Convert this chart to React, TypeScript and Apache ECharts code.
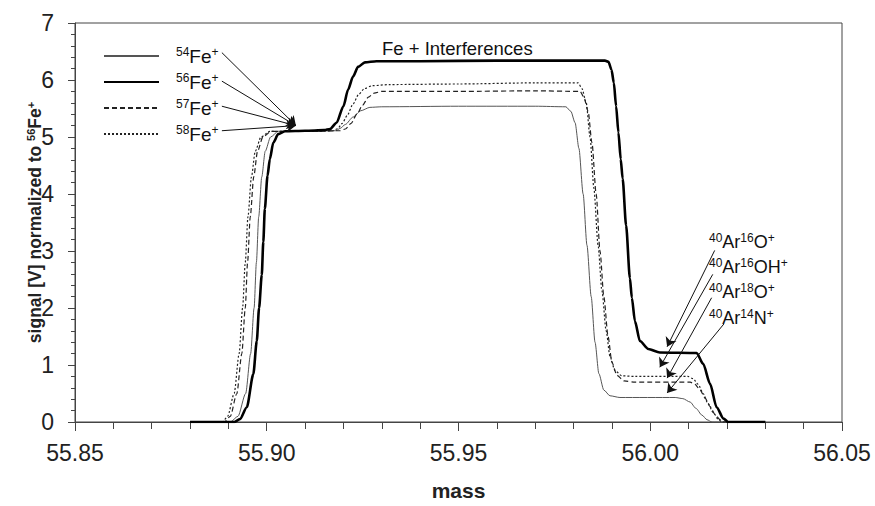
import React, { useEffect, useRef } from "react";
import * as echarts from "echarts";

// ---- data (mass, signal normalized to 56Fe+) ----
const seriesNames = ["54Fe+", "56Fe+", "57Fe+", "58Fe+"];
const isotopes = ["54", "56", "57", "58"];

const fe54: number[][] = [
  [55.88, 0], [55.8905, 0], [55.8925, 0.1], [55.8945, 0.5], [55.8958, 1.2], [55.8967, 2.0],
  [55.8973, 2.8], [55.8979, 3.6], [55.8987, 4.3], [55.8996, 4.75], [55.901, 5.0], [55.903, 5.1],
  [55.91, 5.1], [55.918, 5.11], [55.9191, 5.15], [55.9205, 5.22], [55.9225, 5.35], [55.9245, 5.46],
  [55.9269, 5.52], [55.93, 5.53], [55.95, 5.54], [55.97, 5.54], [55.978, 5.53], [55.9793, 5.45],
  [55.9804, 5.25], [55.9814, 4.8], [55.9825, 4.0], [55.9835, 3.1], [55.9846, 2.2], [55.9856, 1.4],
  [55.9866, 0.85], [55.9879, 0.56], [55.9895, 0.46], [55.9921, 0.43], [56.0065, 0.43], [56.0085, 0.41],
  [56.0104, 0.35], [56.0119, 0.24], [56.0135, 0.12], [56.0148, 0.04], [56.0161, 0], [56.03, 0],
];

const fe56: number[][] = [
  [55.88, 0], [55.8915, 0], [55.893, 0.05], [55.8948, 0.26], [55.8965, 0.84], [55.8974, 1.42],
  [55.898, 2.0], [55.8987, 2.58], [55.8991, 3.16], [55.8995, 3.74], [55.9002, 4.32], [55.9008, 4.61],
  [55.9017, 4.9], [55.903, 5.05], [55.9048, 5.1], [55.91, 5.11], [55.915, 5.12], [55.9165, 5.14],
  [55.9182, 5.25], [55.92, 5.54], [55.9212, 5.83], [55.9225, 6.06], [55.9238, 6.23], [55.9256, 6.31],
  [55.9286, 6.33], [55.94, 6.33], [55.96, 6.34], [55.98, 6.34], [55.9882, 6.34], [55.9891, 6.32],
  [55.9899, 6.18], [55.9905, 5.95], [55.9911, 5.54], [55.9917, 5.08], [55.9923, 4.61], [55.9928, 4.27],
  [55.9937, 3.45], [55.9947, 2.52], [55.9952, 2.18], [55.996, 1.77], [55.9973, 1.42], [55.9995, 1.28],
  [56.0025, 1.22], [56.0121, 1.21], [56.0138, 1.02], [56.0156, 0.67], [56.0173, 0.26], [56.0191, 0.06],
  [56.0203, 0], [56.03, 0],
];

const fe57: number[][] = [
  [55.88, 0], [55.889, 0], [55.8905, 0.1], [55.8922, 0.5], [55.8935, 1.2], [55.8944, 2.0],
  [55.895, 2.8], [55.8957, 3.6], [55.8966, 4.3], [55.8976, 4.75], [55.899, 5.0], [55.9012, 5.1],
  [55.91, 5.1], [55.919, 5.11], [55.9205, 5.14], [55.922, 5.24], [55.9235, 5.4], [55.925, 5.56],
  [55.9265, 5.7], [55.928, 5.77], [55.93, 5.8], [55.95, 5.8], [55.97, 5.81], [55.9817, 5.8],
  [55.9827, 5.7], [55.9838, 5.45], [55.9848, 4.9], [55.9859, 4.0], [55.9869, 3.0], [55.9879, 2.2],
  [55.989, 1.5], [55.99, 1.05], [55.9913, 0.82], [55.9932, 0.72], [55.996, 0.7], [56.0104, 0.7],
  [56.0117, 0.66], [56.013, 0.56], [56.0143, 0.42], [56.0156, 0.27], [56.0169, 0.13], [56.0182, 0.04],
  [56.0192, 0], [56.03, 0],
];

const fe58: number[][] = [
  [55.88, 0], [55.8885, 0], [55.8898, 0.1], [55.8915, 0.5], [55.8928, 1.2], [55.8937, 2.0],
  [55.8944, 2.8], [55.8951, 3.6], [55.896, 4.3], [55.897, 4.75], [55.8985, 5.0], [55.9008, 5.1],
  [55.91, 5.1], [55.9175, 5.11], [55.9185, 5.15], [55.9197, 5.24], [55.921, 5.38], [55.9225, 5.58],
  [55.924, 5.75], [55.9255, 5.85], [55.9275, 5.9], [55.932, 5.92], [55.95, 5.93], [55.97, 5.95],
  [55.9812, 5.95], [55.9822, 5.85], [55.9833, 5.6], [55.9843, 5.0], [55.9853, 4.1], [55.9864, 3.1],
  [55.9874, 2.3], [55.9885, 1.6], [55.9895, 1.15], [55.9908, 0.9], [55.9926, 0.81], [55.996, 0.8],
  [56.0098, 0.8], [56.0112, 0.76], [56.0125, 0.66], [56.0138, 0.5], [56.015, 0.33], [56.0164, 0.17],
  [56.0177, 0.05], [56.0187, 0], [56.03, 0],
];

// annotation arrows: [start, end] in data coordinates
const legendArrows: number[][][] = [
  [[55.8883, 6.48], [55.9076, 5.2]],
  [[55.8883, 5.98], [55.9076, 5.2]],
  [[55.8883, 5.54], [55.9076, 5.2]],
  [[55.8883, 5.11], [55.9076, 5.2]],
];
const interferenceArrows: number[][][] = [
  [[56.0168, 3.01], [56.0044, 1.32]],
  [[56.0163, 2.59], [56.0025, 0.96]],
  [[56.016, 2.18], [56.0044, 0.77]],
  [[56.0192, 1.72], [56.0044, 0.51]],
];
const interferenceLabels = [
  "{s|40}Ar{s|16}O{s|+}",
  "{s|40}Ar{s|16}OH{s|+}",
  "{s|40}Ar{s|18}O{s|+}",
  "{s|40}Ar{s|14}N{s|+}",
];
const plateauLabel = "Fe + Interferences";
const xTitle = "mass";
const yTitle = "signal [V] normalized to {s|56}Fe{s|+}";

const FONT = "'Liberation Sans', Arial, Helvetica, sans-serif";

export default function App() {
  const ref = useRef<HTMLDivElement>(null);

  useEffect(() => {
    document.body.style.margin = "0";
    const chart = echarts.init(ref.current!, null, { renderer: "svg" });

    const supRich = {
      s: { fontSize: 12, lineHeight: 11, verticalAlign: "top", fontFamily: FONT, color: "#111" },
    };

    const curves = [
      { data: fe54, color: "#555", width: 1, type: "solid" },
      { data: fe56, color: "#000", width: 2.6, type: "solid" },
      { data: fe57, color: "#222", width: 1.2, type: [5, 3] },
      { data: fe58, color: "#222", width: 1.2, type: [2, 2] },
    ];

    const option: any = {
      animation: false,
      textStyle: { fontFamily: FONT },
      grid: {
        left: 75,
        right: 33,
        top: 23,
        bottom: 81,
        show: true,
        borderColor: "#444",
        borderWidth: 1,
        backgroundColor: "transparent",
      },
      xAxis: {
        type: "value",
        min: 55.85,
        max: 56.05,
        interval: 0.05,
        name: xTitle,
        nameLocation: "middle",
        nameGap: 58,
        nameMoveOverlap: false,
        nameTextStyle: { fontSize: 21, fontWeight: "bold", color: "#222", fontFamily: FONT },
        axisLine: { lineStyle: { color: "#444", width: 1 } },
        axisTick: { show: true, length: 9, lineStyle: { color: "#444" } },
        minorTick: { show: true, splitNumber: 5, length: 7, lineStyle: { color: "#444" } },
        splitLine: { show: false },
        axisLabel: {
          fontSize: 23,
          color: "#222",
          margin: 19,
          fontFamily: FONT,
          formatter: (v: number) => v.toFixed(2),
        },
      },
      yAxis: {
        type: "value",
        min: 0,
        max: 7,
        interval: 1,
        name: yTitle,
        nameLocation: "middle",
        nameGap: 30,
        nameMoveOverlap: false,
        nameTextStyle: {
          fontSize: 17.5,
          fontWeight: "bold",
          color: "#222",
          fontFamily: FONT,
          lineHeight: 20,
          rich: { s: { fontSize: 11, lineHeight: 11, verticalAlign: "top", fontWeight: "bold", fontFamily: FONT, color: "#222" } },
        },
        axisLine: { show: true, lineStyle: { color: "#444", width: 1 } },
        axisTick: { show: true, length: 7, lineStyle: { color: "#444" } },
        minorTick: { show: true, splitNumber: 5, length: 4, lineStyle: { color: "#444" } },
        splitLine: { show: false },
        axisLabel: { fontSize: 23, color: "#222", margin: 21, fontFamily: FONT },
      },
      legend: {
        data: seriesNames,
        orient: "vertical",
        left: 98,
        top: 41,
        itemWidth: 55,
        itemHeight: 12,
        itemGap: 6,
        itemStyle: { color: "rgba(0,0,0,0)", borderWidth: 0, borderColor: "rgba(0,0,0,0)" },
        formatter: (name: string) => `{s|${isotopes[seriesNames.indexOf(name)]}}Fe{s|+}`,
        textStyle: {
          fontSize: 19,
          lineHeight: 20,
          color: "#111",
          fontFamily: FONT,
          padding: [0, 0, 0, 12],
          rich: supRich,
        },
        selectedMode: false,
      },
      graphic: [
        {
          type: "text",
          left: 382,
          top: 39,
          style: { text: plateauLabel, fontSize: 18.5, fill: "#111", fontFamily: FONT },
        },
        ...interferenceLabels.map((t, i) => ({
          type: "text",
          left: 709,
          top: [232, 257, 282, 308][i],
          style: {
            text: t,
            fontSize: 18,
            lineHeight: 20,
            fill: "#111",
            fontFamily: FONT,
            rich: { s: { fontSize: 12, lineHeight: 11, verticalAlign: "top", fontFamily: FONT, fill: "#111" } },
          },
        })),
      ],
      series: [
        ...curves.map((c, i) => ({
          name: seriesNames[i],
          type: "line",
          data: c.data,
          showSymbol: false,
          symbol: "none",
          smooth: 0.25,
          smoothMonotone: "x",
          lineStyle: { color: c.color, width: c.width, type: c.type },
          itemStyle: { color: c.color },
          z: i === 1 ? 4 : 3,
        })),
        {
          name: "arrows-left",
          type: "lines",
          coordinateSystem: "cartesian2d",
          symbol: ["none", "arrow"],
          symbolSize: 9,
          lineStyle: { color: "#111", width: 1, opacity: 1 },
          data: legendArrows.map((c) => ({ coords: c })),
          z: 6,
        },
        {
          name: "arrows-right",
          type: "lines",
          coordinateSystem: "cartesian2d",
          symbol: ["none", "arrow"],
          symbolSize: 9,
          lineStyle: { color: "#111", width: 1, opacity: 1 },
          data: interferenceArrows.map((c) => ({ coords: c })),
          z: 6,
        },
      ],
    };

    chart.setOption(option);
    return () => chart.dispose();
  }, []);

  return (
    <div
      ref={ref}
      style={{ position: "absolute", left: 0, top: 0, width: 875, height: 506, background: "#fff" }}
    />
  );
}
